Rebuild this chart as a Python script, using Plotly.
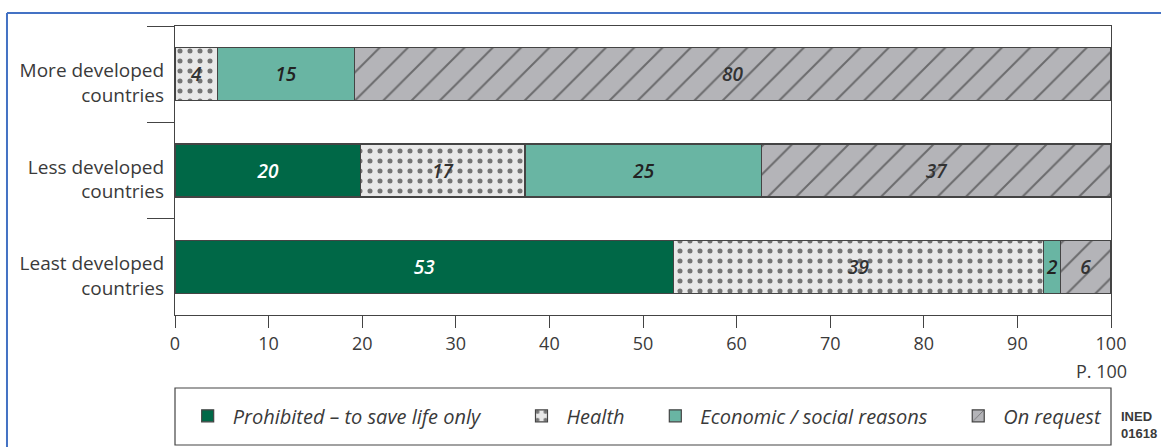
import plotly.graph_objects as go

categories = ["More developed<br>countries", "Less developed<br>countries", "Least developed<br>countries"]
series_names = ["Prohibited – to save life only", "Health", "Economic / social reasons", "On request"]
prohibited = [0, 19.8, 53.3]
health = [4.5, 17.6, 39.5]
economic = [14.7, 25.3, 1.8]
on_request = [80.8, 37.3, 5.4]
prohibited_lbl = ["", "20", "53"]
health_lbl = ["4", "17", "39"]
economic_lbl = ["15", "25", "2"]
on_request_lbl = ["80", "37", "6"]
x_ticks = [0, 10, 20, 30, 40, 50, 60, 70, 80, 90, 100]

FONT = "Open Sans"
TXT = "#3a3a3a"
pads = [6, 4, 4, 0]

styles = [
    dict(color="#006847", pattern=None, tc="white"),
    dict(color="#e8e8e8", pattern=dict(shape=".", fgcolor="#000000", bgcolor="#e8e8e8", size=10, solidity=0.2, fillmode="overlay"), tc="#333333"),
    dict(color="#69b5a3", pattern=None, tc="#222222"),
    dict(color="#b4b4b8", pattern=dict(shape="/", fgcolor="#222222", bgcolor="#b4b4b8", size=20, solidity=0.1, fillmode="overlay"), tc="#333333"),
]
values = [prohibited, health, economic, on_request]
labels = [prohibited_lbl, health_lbl, economic_lbl, on_request_lbl]

fig = go.Figure()
for name, vals, lbls, st, pd_ in zip(series_names, values, labels, styles, pads):
    marker = dict(color=st["color"], line=dict(color="#444444", width=1.2))
    if st["pattern"]:
        marker["pattern"] = st["pattern"]
    fig.add_trace(go.Bar(
        y=categories, x=vals, name=name + "\u00a0" * pd_, orientation="h",
        marker=marker, text=lbls, textposition="inside",
        insidetextanchor="middle", textangle=0,
        textfont=dict(family=FONT, size=19, color=st["tc"], style="italic", weight=600),
        hoverinfo="skip",
    ))

fig.update_layout(
    barmode="stack",
    bargap=0.45,
    width=1161, height=447,
    margin=dict(l=175, r=50, t=26, b=132),
    plot_bgcolor="white", paper_bgcolor="white",
    font=dict(family=FONT, size=18, color=TXT),
    uniformtext=dict(minsize=19, mode="show"),
    showlegend=True,
    legend=dict(
        orientation="h", x=0.0082, xanchor="left", y=-0.349, yanchor="middle",
        borderwidth=0, bgcolor="rgba(0,0,0,0)",
        font=dict(family=FONT, size=20, color=TXT, style="italic"),
        traceorder="normal", itemwidth=40,
    ),
)
fig.update_xaxes(
    range=[0, 100], tickvals=x_ticks, ticks="outside", ticklen=12,
    tickcolor="#444444", tickwidth=1.2, showline=True, linecolor="#444444",
    linewidth=1.2, mirror=True, showgrid=False, zeroline=False,
    tickfont=dict(family=FONT, size=18, color=TXT), automargin=False,
)
fig.update_yaxes(
    categoryorder="array", categoryarray=categories, autorange="reversed",
    tickson="boundaries", ticks="outside", ticklen=27, tickcolor="#444444",
    tickwidth=1.2, showline=True, linecolor="#444444", linewidth=1.2,
    mirror=True, showgrid=False, ticklabelstandoff=6, ticklabelshift=-9,
    automargin=False,
    tickfont=dict(family=FONT, size=19, color=TXT),
)

fig.add_annotation(xref="paper", yref="paper", x=1.019, y=-0.145, xanchor="right",
                   yanchor="top", text="P. 100", showarrow=False,
                   font=dict(family=FONT, size=18, color=TXT))
fig.add_annotation(xref="paper", yref="paper", x=1.0085, y=-0.443, xanchor="left",
                   yanchor="bottom", text="<b>INED<br>01618</b>", showarrow=False,
                   align="left",
                   font=dict(family="Liberation Sans Narrow, Liberation Sans", size=13, color=TXT))
# legend frame
fig.add_shape(type="rect", xref="paper", yref="paper", x0=0, x1=1, y0=-0.4498, y1=-0.2526,
              line=dict(color="#444444", width=1.2), fillcolor="rgba(0,0,0,0)")
# blue frame (top and left edges)
fig.add_shape(type="line", xref="paper", yref="paper", x0=-0.1795, x1=1.06, y0=1.045, y1=1.045,
              line=dict(color="#4472c4", width=2))
fig.add_shape(type="line", xref="paper", yref="paper", x0=-0.1795, x1=-0.1795, y0=1.045, y1=-0.5,
              line=dict(color="#4472c4", width=2))

fig.write_html("out.html", config={"displayModeBar": False},
               post_script="document.body.style.margin='0px';")
